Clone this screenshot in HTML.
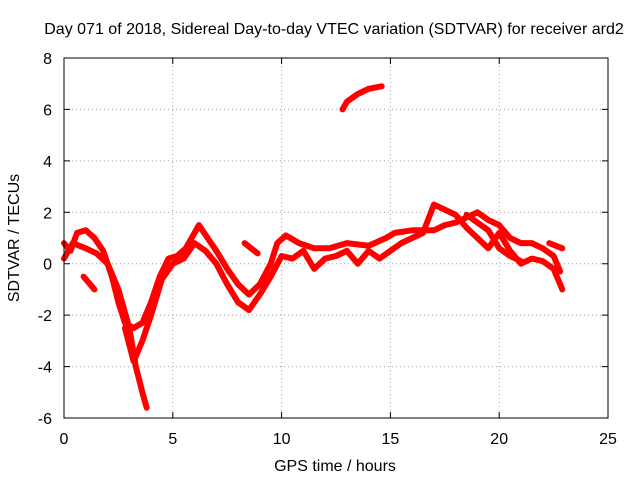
<!DOCTYPE html>
<html><head><meta charset="utf-8"><style>
body{margin:0;background:#fff}
svg text{font-family:"Liberation Sans",sans-serif;font-size:16px;fill:#000}
</style></head><body>
<svg width="640" height="480" viewBox="0 0 640 480">
<rect width="640" height="480" fill="#fff"/>
<g id="grid"></g>
<g id="series"></g>
<rect x="64" y="58" width="544" height="360" fill="none" stroke="#000" stroke-width="1"/>
<g id="ticks"></g>
<text x="334" y="34" text-anchor="middle">Day 071 of 2018, Sidereal Day-to-day VTEC variation (SDTVAR) for receiver ard2</text>
<text x="335" y="471" text-anchor="middle">GPS time / hours</text>
<text x="19" y="238" text-anchor="middle" transform="rotate(-90 19 238)">SDTVAR / TECUs</text>
</svg>
<script>
const xTicks=[0,5,10,15,20,25];
const yTicks=[-6,-4,-2,0,2,4,6,8];
const trackA_x=[0,0.3,0.6,1.0,1.4,1.8,2.2,2.5,2.8,3.2,3.6,4.0,4.4,4.8,5.2,5.6,6.0,6.2,6.6,7.0,7.5,8.0,8.5,9.0,9.5,9.8,10.2,10.8,11.5,12.2,13,14,14.8,15.2,16,17,17.5,18,18.5,19,19.5,20,20.5,21,21.5,22,22.5,22.8];
const trackA_y=[0.8,0.5,1.2,1.3,1.0,0.5,-0.5,-1.5,-2.3,-2.5,-2.3,-1.5,-0.5,0.2,0.3,0.6,1.2,1.5,1.0,0.5,-0.2,-0.8,-1.2,-0.8,0,0.8,1.1,0.8,0.6,0.6,0.8,0.7,1.0,1.2,1.3,1.3,1.5,1.6,1.8,2.0,1.7,1.5,1.0,0.8,0.8,0.6,0.3,-0.3];
const trackB_x=[0,0.4,1.0,1.5,2.0,2.5,3.0,3.3,3.6,3.8];
const trackB_y=[0.2,0.8,0.6,0.4,0,-1,-2.5,-4.0,-5.0,-5.6];
const trackC_x=[2.8,3.2,3.6,4.0,4.5,5,5.5,6,6.5,7,7.5,8,8.5,9,9.5,10,10.5,11,11.5,12,12.5,13,13.5,14,14.5,15,15.5,16,16.5,17,17.5,18,18.5,19,19.5,20,20.5,21,21.5,22,22.5,22.9];
const trackC_y=[-2.5,-3.8,-3.0,-2.0,-0.6,0,0.2,0.8,0.5,0,-0.8,-1.5,-1.8,-1.2,-0.5,0.3,0.2,0.5,-0.2,0.2,0.3,0.5,0,0.5,0.2,0.5,0.8,1.0,1.2,2.3,2.1,1.9,1.4,1.0,0.6,1.2,0.5,0,0.2,0.1,-0.2,-1.0];
const trackD_x=[12.8,13,13.5,14,14.6];
const trackD_y=[6.0,6.3,6.6,6.8,6.9];
const trackE_x=[8.3,8.9];const trackE_y=[0.8,0.4];
const trackF_x=[22.3,22.9];const trackF_y=[0.8,0.6];
const trackG_x=[0.9,1.4];const trackG_y=[-0.5,-1.0];
const trackH_x=[18.5,19.5,20,20.5,21];const trackH_y=[1.9,1.3,0.6,0.3,0.1];
const NS="http://www.w3.org/2000/svg";
const X=v=>64+v*544/25, Y=v=>418-(v+6)*360/14;
function mk(t,a,p){const e=document.createElementNS(NS,t);for(const k in a)e.setAttribute(k,a[k]);p.appendChild(e);return e;}
const grid=document.getElementById('grid'),ticks=document.getElementById('ticks'),ser=document.getElementById('series');
xTicks.forEach(t=>{const x=X(t);
 if(t>0&&t<25){const g=mk('line',{x1:x,x2:x,y1:58,y2:418,stroke:'#a0a0a0','stroke-dasharray':'1,3'},grid);}
 const l=mk('path',{d:`M${x},418v-6M${x},58v6`,stroke:'#000'},ticks);
 const tx=mk('text',{x:x,y:444,'text-anchor':'middle'},ticks);tx.textContent=t;});
yTicks.forEach(t=>{const y=Y(t);
 if(t>-6&&t<8){const g=mk('line',{x1:64,x2:608,y1:y,y2:y,stroke:'#a0a0a0','stroke-dasharray':'1,3'},grid);}
 const l=mk('path',{d:`M64,${y}h6M608,${y}h-6`,stroke:'#000'},ticks);
 const tx=mk('text',{x:52,y:y+6,'text-anchor':'end'},ticks);tx.textContent=t;});
const tracks=[[trackA_x,trackA_y],[trackB_x,trackB_y],[trackC_x,trackC_y],[trackD_x,trackD_y],[trackE_x,trackE_y],[trackF_x,trackF_y],[trackG_x,trackG_y],[trackH_x,trackH_y]];
tracks.forEach((tr,i)=>{const pts=tr[0].map((v,j)=>X(v)+','+Y(tr[1][j])).join(' ');
 const p=mk('polyline',{points:pts,fill:'none',stroke:'#f00','stroke-width':6,'stroke-linejoin':'round','stroke-linecap':'round'},ser);
 
 });
</script>
</body></html>
